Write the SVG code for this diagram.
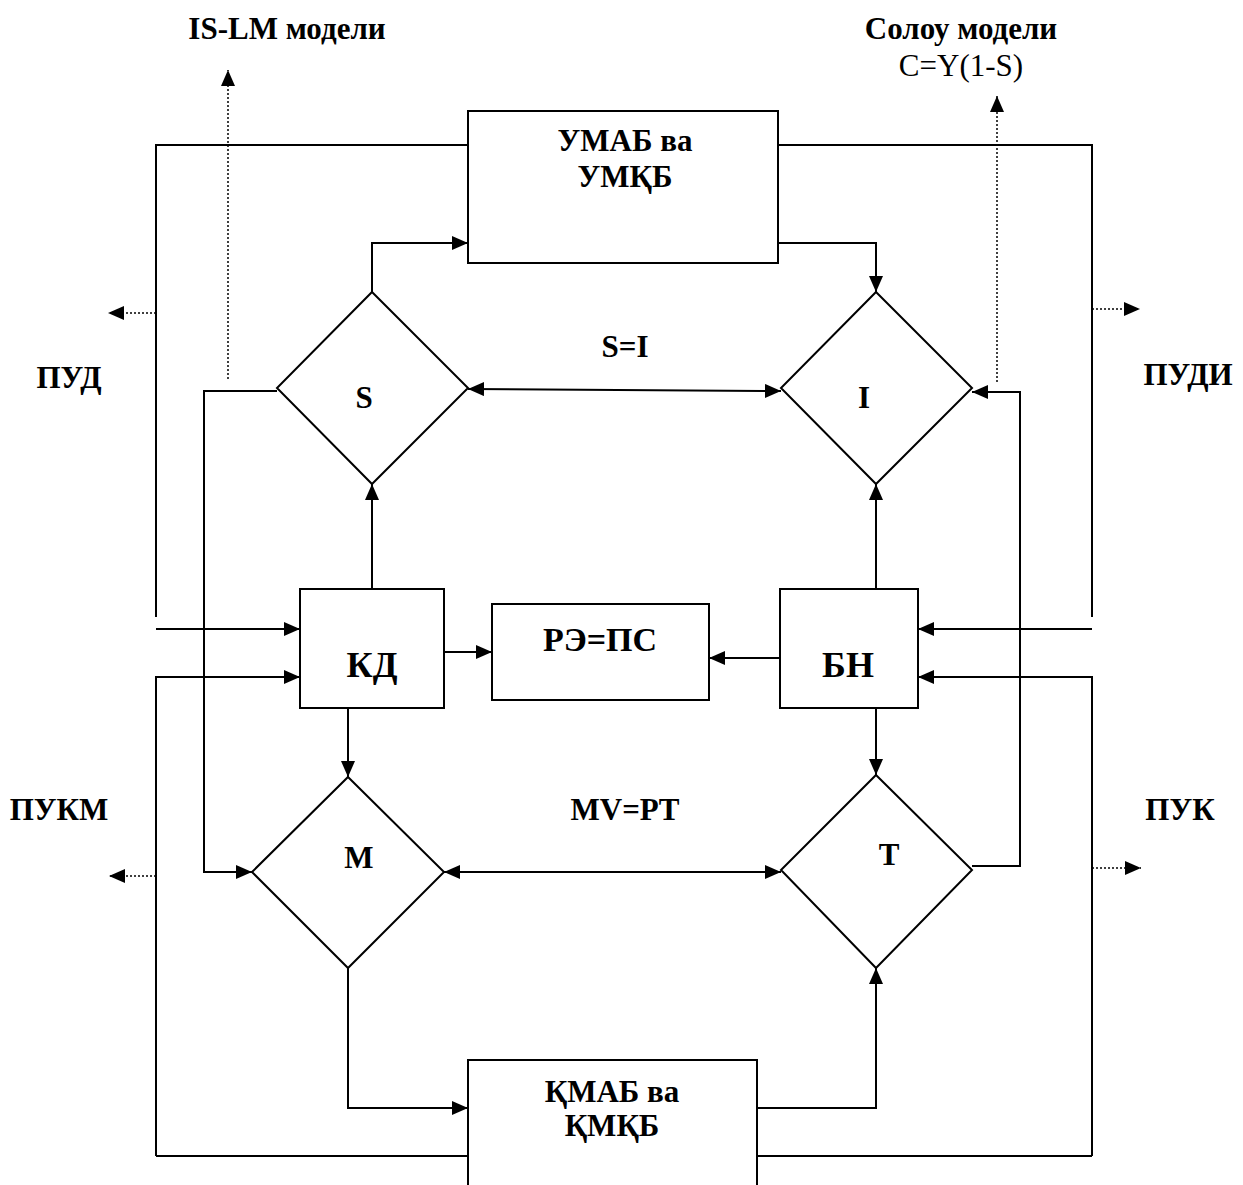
<svg xmlns="http://www.w3.org/2000/svg" width="1243" height="1185" viewBox="0 0 1243 1185">
<style>
.ln{fill:none;stroke:#000;stroke-width:2}
.dt{fill:none;stroke:#000;stroke-width:1.5;stroke-dasharray:2 2}
.sh{fill:#fff;stroke:#000;stroke-width:2}
.t{font-family:"Liberation Serif","Times New Roman",serif;font-weight:bold;font-size:31px;fill:#000;text-anchor:middle}
.r{font-family:"Liberation Serif","Times New Roman",serif;font-size:31px;fill:#000;text-anchor:middle}
</style>
<defs>
<marker id="a" viewBox="0 0 16 14" refX="16" refY="7" markerWidth="16" markerHeight="14" markerUnits="userSpaceOnUse" orient="auto-start-reverse">
<path d="M0,0 L16,7 L0,14 Z" fill="#000"/>
</marker>
</defs>
<rect width="1243" height="1185" fill="#fff"/>
<g id="connectors">
<path class="ln" d="M468,145 H156 V617"/>
<path class="ln" d="M778,145 H1092 V617"/>
<path class="ln" d="M372,292 V243 H468" marker-end="url(#a)"/>
<path class="ln" d="M778,243 H876 V292" marker-end="url(#a)"/>
<path class="ln" d="M468,389 L781,391" marker-start="url(#a)" marker-end="url(#a)"/>
<path class="ln" d="M277,391 H204 V872 H252" marker-end="url(#a)"/>
<path class="ln" d="M972,866 H1020 V392 H972" marker-end="url(#a)"/>
<path class="dt" d="M228,379 V70" marker-end="url(#a)"/>
<path class="dt" d="M997,382 V96" marker-end="url(#a)"/>
<path class="dt" d="M156,313 H108" marker-end="url(#a)"/>
<path class="dt" d="M1092,309 H1140" marker-end="url(#a)"/>
<path class="dt" d="M156,876 H109" marker-end="url(#a)"/>
<path class="dt" d="M1092,868 H1141" marker-end="url(#a)"/>
<path class="ln" d="M372,589 V484" marker-end="url(#a)"/>
<path class="ln" d="M876,589 V484" marker-end="url(#a)"/>
<path class="ln" d="M156,629 H300" marker-end="url(#a)"/>
<path class="ln" d="M156,1156 V677 H300" marker-end="url(#a)"/>
<path class="ln" d="M156,1156 H468"/>
<path class="ln" d="M1092,629 H918" marker-end="url(#a)"/>
<path class="ln" d="M1092,1156 V677 H918" marker-end="url(#a)"/>
<path class="ln" d="M1092,1156 H757"/>
<path class="ln" d="M444,652 H492" marker-end="url(#a)"/>
<path class="ln" d="M780,658 H709" marker-end="url(#a)"/>
<path class="ln" d="M348,708 V777" marker-end="url(#a)"/>
<path class="ln" d="M876,708 V775" marker-end="url(#a)"/>
<path class="ln" d="M444,872 H781" marker-start="url(#a)" marker-end="url(#a)"/>
<path class="ln" d="M348,968 V1108 H468" marker-end="url(#a)"/>
<path class="ln" d="M757,1108 H876 V968" marker-end="url(#a)"/>
</g>
<g id="node-umab">
<rect class="sh" x="468" y="111" width="310" height="152"/>
<text class="t" x="625" y="151">УМАБ ва</text>
<text class="t" x="625" y="187">УМҚБ</text>
</g>
<g id="node-s">
<polygon class="sh" points="372,292 468,388 372,484 277,388"/>
<text class="t" x="364" y="408">S</text>
</g>
<g id="node-i">
<polygon class="sh" points="876,292 972,388 876,484 781,388"/>
<text class="t" x="864" y="408">I</text>
</g>
<g id="node-kd">
<rect class="sh" x="300" y="589" width="144" height="119"/>
<text class="t" x="372" y="677" style="font-size:36px">КД</text>
</g>
<g id="node-re">
<rect class="sh" x="492" y="604" width="217" height="96"/>
<text class="t" x="600" y="651" style="font-size:34px">РЭ=ПС</text>
</g>
<g id="node-bn">
<rect class="sh" x="780" y="589" width="138" height="119"/>
<text class="t" x="848" y="677" style="font-size:36px">БН</text>
</g>
<g id="node-m">
<polygon class="sh" points="348,777 444,872 348,968 252,872"/>
<text class="t" x="359" y="868">M</text>
</g>
<g id="node-t">
<polygon class="sh" points="876,775 972,870 876,968 781,870"/>
<text class="t" x="889" y="865">T</text>
</g>
<g id="node-kmab">
<path class="sh" d="M468,1190 V1060 H757 V1190"/>
<text class="t" x="612" y="1102">ҚМАБ ва</text>
<text class="t" x="612" y="1136">ҚМҚБ</text>
</g>
<g id="labels">
<text class="t" x="287" y="39">IS-LM модели</text>
<text class="t" x="961" y="39">Солоу модели</text>
<text class="r" x="961" y="76">C=Y(1-S)</text>
<text class="t" x="625" y="357">S=I</text>
<text class="t" x="625" y="820">MV=PT</text>
<text class="t" x="69" y="388">ПУД</text>
<text class="t" x="1188" y="385">ПУДИ</text>
<text class="t" x="59" y="820">ПУКМ</text>
<text class="t" x="1180" y="820">ПУК</text>
</g>
</svg>
